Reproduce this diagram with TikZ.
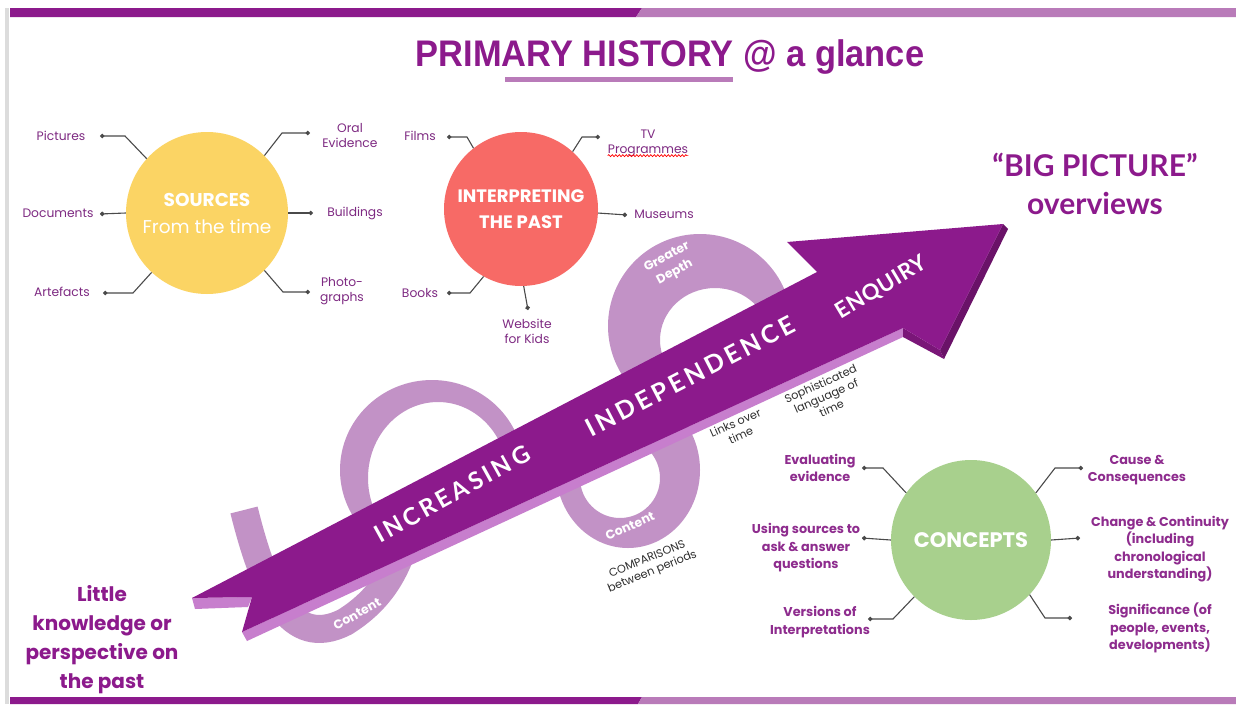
\documentclass[tikz,border=0pt]{standalone}
\usepackage{fontspec}
\setmainfont{Poppins}
\newfontfamily\titlefont{Liberation Sans}
\newfontfamily\latofont{Lato}
\newfontfamily\ribfont[LetterSpace=14]{Lato}
\newfontfamily\enqfont[LetterSpace=3]{Lato}
\usetikzlibrary{arrows.meta,decorations.pathmorphing}
\definecolor{dpurple}{HTML}{8C1A8C}
\definecolor{lpurple}{HTML}{B97BB9}
\definecolor{loopc}{HTML}{C292C6}
\definecolor{stripc}{HTML}{C77ECD}
\definecolor{barbside}{HTML}{7A1678}
\definecolor{headside}{HTML}{6A1268}
\definecolor{yel}{HTML}{FBD464}
\definecolor{coral}{HTML}{F76A66}
\definecolor{grn}{HTML}{A8D08D}
\definecolor{conn}{HTML}{4A4A4A}
\definecolor{lab}{HTML}{7E2A82}
\definecolor{clab}{HTML}{8E2C8E}
\definecolor{gtext}{HTML}{2E2E2E}
\definecolor{edgegray}{HTML}{DCDCDC}
\begin{document}
\begin{tikzpicture}[x=1pt,y=-1pt,
 lbl/.style={text=lab, font=\fontsize{12.3}{15}\selectfont, align=center, inner sep=0pt},
 clbl/.style={text=clab, font=\bfseries\fontsize{12.8}{17.5}\selectfont, align=center, inner sep=0pt},
 con/.style={draw=conn, line width=1.1pt, -{Circle[length=4.5pt]}},
 hub/.style={circle, inner sep=0pt, text=white, align=center},
 loopband/.style={fill=loopc, even odd rule},
 ribtext/.style={text=white, inner sep=0pt},
 looptext/.style={text=white, font=\bfseries\fontsize{12.5}{17}\selectfont, align=center, inner sep=0pt},
 graytext/.style={text=gtext, font=\fontsize{11.3}{13.5}\selectfont, align=center, inner sep=0pt}
]
\useasboundingbox (0,0) rectangle (1236,704);
\fill[white] (0,0) rectangle (1236,704);
% frame bars
\fill[edgegray] (5,8) rectangle (9,704);
\fill[dpurple] (10,8) -- (642,8) -- (636,17) -- (10,17) -- cycle;
\fill[lpurple] (642,8) -- (1236,8) -- (1236,17) -- (636,17) -- cycle;
\fill[dpurple] (10,697) -- (642,697) -- (638,704) -- (10,704) -- cycle;
\fill[lpurple] (642,697) -- (1236,697) -- (1236,704) -- (638,704) -- cycle;
% title
\node[text=dpurple, inner sep=0pt, font=\titlefont\bfseries\fontsize{37}{40}\selectfont] (title) at (670,57) {\scalebox{0.93}[1]{PRIMARY HISTORY @ a glance}};
\fill[lpurple] (505,77) rectangle (733,82);

% loops
\begin{scope}
\clip (0,0) -- (1236,0) -- (1236,175) -- (0,743) -- cycle;
\fill[loopband] (432,470) ellipse [x radius=92pt, y radius=90pt] (438,478) ellipse [x radius=70pt, y radius=76pt];
\end{scope}
\fill[loopband] (700,326) ellipse [x radius=92pt, y radius=92pt] (715,340) ellipse [x radius=55pt, y radius=52pt];
\fill[loopband] (628,470) ellipse [x radius=72pt, y radius=78pt] (620,478) ellipse [x radius=40pt, y radius=40pt];
\draw[loopc, line width=28pt] (244,510) .. controls (264,590) and (290,650) .. (345,622) .. controls (380,600) and (400,570) .. (410,520);

\node[looptext, rotate=29] (content1) at (357,614) {Content};
\node[looptext, rotate=24] (content2) at (630,526) {Content};
\node[looptext, rotate=28] (depth) at (671,265) {Greater\\Depth};

% ribbon arrow
\fill[stripc] (242,632) -- (903,328) -- (903,337) -- (247,641) -- cycle;
\fill[stripc] (192,598) -- (252,597) -- (248,607) -- (195,609) -- cycle;
\fill[barbside] (903,328) -- (940,350) -- (944,359) -- (903,337) -- cycle;
\fill[headside] (1003,224) -- (1008,229) -- (944,359) -- (940,350) -- cycle;
\fill[dpurple] (192,598) -- (817,272) -- (787,242) -- (1003,224) -- (940,350) -- (903,328) -- (242,632) -- (252,597) -- cycle;

\node[ribtext, rotate=29, font=\ribfont\bfseries\fontsize{24}{26}\selectfont] (incr) at (452,494) {INCREASING};
\node[ribtext, rotate=27.5, font=\ribfont\bfseries\fontsize{25}{27}\selectfont] (indep) at (690,376) {INDEPENDENCE};
\node[ribtext, rotate=31, font=\enqfont\bfseries\fontsize{22}{24}\selectfont] (enq) at (881,288) {ENQUIRY};

% gray annotations
\node[graytext, rotate=24] (links) at (738,429) {Links over\\time};
\node[graytext, rotate=24] (soph) at (826,396) {Sophisticated\\language of\\time};
\node[graytext, rotate=22] (comp) at (650,566) {COMPARISONS\\between periods};

% hubs
\node[hub, fill=yel, minimum size=162pt, font=\fontsize{18.5}{27}\selectfont] (src) at (207,213) {{\bfseries SOURCES}\\From the time};
\node[hub, fill=coral, minimum size=154pt, font=\bfseries\fontsize{18}{26}\selectfont] (interp) at (521,209) {INTERPRETING\\THE PAST};
\node[hub, fill=grn, minimum size=160pt, font=\bfseries\fontsize{21}{24}\selectfont] (conc) at (971,540) {CONCEPTS};

% dot coordinates
\coordinate (dPic) at (100,136);
\coordinate (dDoc) at (100,214);
\coordinate (dArt) at (103,293);
\coordinate (dOral) at (310,133);
\coordinate (dBuild) at (313,213);
\coordinate (dPhoto) at (310,292);
\coordinate (dFilms) at (447,137);
\coordinate (dTV) at (600,137);
\coordinate (dMus) at (627,215);
\coordinate (dBooks) at (447,293);
\coordinate (dWeb) at (528,310);
\coordinate (dEval) at (862,468);
\coordinate (dUse) at (862,538);
\coordinate (dVer) at (868,619);
\coordinate (dCause) at (1083,468);
\coordinate (dChange) at (1080,538);
\coordinate (dSig) at (1072,618);

% connectors
\draw[con] (src.138) -- (125,136) -- (dPic);
\draw[con] (src.180) -- (dDoc);
\draw[con] (src.227) -- (133,293) -- (dArt);
\draw[con] (src.45) -- (282,133) -- (dOral);
\draw[con] (src.0) -- (dBuild);
\draw[con] (src.315) -- (283,292) -- (dPhoto);
\draw[con] (interp.128) -- (467,137) -- (dFilms);
\draw[con] (interp.48) -- (582,137) -- (dTV);
\draw[con] (interp.-3) -- (dMus);
\draw[con] (interp.241) -- (470,293) -- (dBooks);
\draw[con] (interp.-88) -- (dWeb);
\draw[con] (conc.144) -- (883,468) -- (dEval);
\draw[con] (conc.180) -- (dUse);
\draw[con] (conc.225) -- (893,619) -- (dVer);
\draw[con] (conc.36) -- (1055,468) -- (dCause);
\draw[con] (conc.0) -- (dChange);
\draw[con] (conc.-43) -- (1045,618) -- (dSig);

% labels
\node[lbl] (lPic) at (61,136) {Pictures};
\node[lbl] (lDoc) at (58,213) {Documents};
\node[lbl] (lArt) at (62,292) {Artefacts};
\node[lbl] (lOral) at (350,136) {Oral\\Evidence};
\node[lbl] (lBuild) at (355,213) {Buildings};
\node[lbl] (lPhoto) at (342,291) {Photo-\\graphs};
\node[lbl] (lFilms) at (420,136) {Films};
\node[lbl] (lTV) at (648,143) {TV\\Programmes};
\draw[red, line width=0.7pt, decorate, decoration={snake, amplitude=1pt, segment length=3.5pt}] ([yshift=1pt]lTV.south west) -- ([yshift=1pt]lTV.south east);
\node[lbl] (lMus) at (664,214) {Museums};
\node[lbl] (lBooks) at (420,293) {Books};
\node[lbl] (lWeb) at (527,331) {Website\\for Kids};

\node[clbl] (lEval) at (820,468) {Evaluating\\evidence};
\node[clbl] (lUse) at (806,548) {Using sources to\\ask \& answer\\questions};
\node[clbl] (lVer) at (820,622) {Versions of\\Interpretations};
\node[clbl] (lCause) at (1137,470) {Cause \&\\Consequences};
\node[clbl] (lChange) at (1160,549) {Change \& Continuity\\(including\\chronological\\understanding)};
\node[clbl] (lSig) at (1160,628) {Significance (of\\people, events,\\developments)};

% big texts
\node[text=dpurple, align=center, inner sep=0pt, font=\bfseries\fontsize{20}{29}\selectfont] (little) at (102,640) {Little\\knowledge or\\perspective on\\the past};
\node[text=dpurple, align=center, inner sep=0pt, font=\latofont\bfseries\fontsize{30}{38}\selectfont] (big) at (1095,184) {“BIG PICTURE”\\overviews};
\end{tikzpicture}
\end{document}
